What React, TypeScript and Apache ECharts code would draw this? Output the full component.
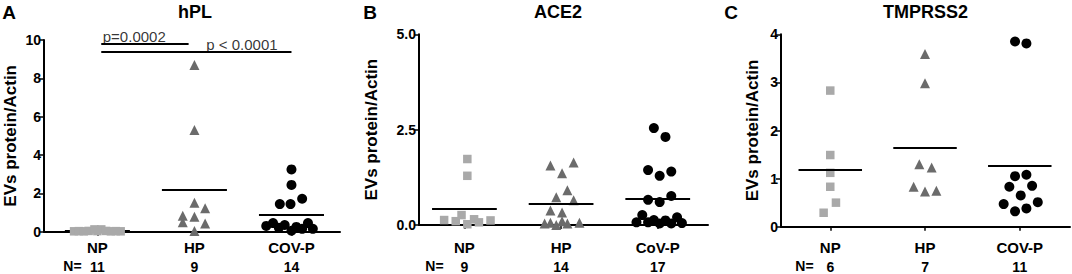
import React, { useEffect, useRef } from "react";
import * as echarts from "echarts";

const FONT = "'Liberation Sans', Arial, sans-serif";

// Panel A: hPL
const hplCategories = ["NP", "HP", "COV-P"];
const hplN = [11, 9, 14];
const hplNP = [0.02, 0.03, 0.02, 0.04, 0.12, 0.03, 0.12, 0.04, 0.02, 0.03, 0.02];
const hplNPJitter = [-0.24, -0.19, -0.14, -0.09, -0.03, 0.0, 0.04, 0.09, 0.14, 0.19, 0.24];
const hplHP = [8.7, 5.3, 1.51, 1.22, 0.83, 0.78, 0.49, 0.43, 0.03];
const hplHPJitter = [0, 0, 0, 0.11, -0.12, 0, -0.12, 0.11, 0];
const hplCOV = [3.25, 2.44, 1.72, 1.44, 1.44, 0.3, 0.45, 0.2, 0.35, 0.05, 0.25, 0.15, 0.45, 0.15];
const hplCOVJitter = [0, 0, 0.11, -0.12, -0.01, -0.26, -0.19, -0.13, -0.07, 0, 0.05, 0.11, 0.17, 0.22];
const hplMeans = [0.03, 2.17, 0.87];
const hplTicks = [0, 2, 4, 6, 8, 10];

// Panel B: ACE2
const aceCategories = ["NP", "HP", "CoV-P"];
const aceN = [9, 14, 17];
const aceNP = [1.73, 1.29, 0.13, 0.1, 0.26, 0.02, 0.15, 0.07, 0.12];
const aceNPJitter = [0.03, 0.03, -0.21, -0.09, -0.03, 0.03, 0.1, 0.15, 0.27];
const aceHP = [1.56, 1.64, 1.36, 0.91, 0.73, 0.65, 0.38, 0.33, 0.04, 0.06, 0.0, 0.1, 0.04, 0.06];
const aceHPJitter = [-0.11, 0.13, 0.01, 0.065, -0.05, 0.13, -0.11, 0.01, -0.17, -0.11, -0.05, 0.01, 0.065, 0.19];
const aceCOV = [2.54, 2.31, 1.44, 1.29, 1.4, 0.66, 0.6, 0.76, 0.26, 0.07, 0.07, 0.13, 0.04, 0.12, 0.2, 0.04, 0.05];
const aceCOVJitter = [-0.04, 0.08, -0.1, 0.02, 0.14, -0.1, 0.02, 0.14, -0.16, -0.22, -0.1, -0.04, 0.02, 0.08, 0.2, 0.14, 0.25];
const aceMeans = [0.42, 0.57, 0.7];
const aceTicks = [0, 2.5, 5];

// Panel C: TMPRSS2
const tmpCategories = ["NP", "HP", "COV-P"];
const tmpN = [6, 7, 11];
const tmpNP = [2.83, 1.49, 1.12, 0.83, 0.5, 0.29];
const tmpNPJitter = [0, 0, 0, 0, 0.06, -0.07];
const tmpHP = [3.59, 2.98, 1.3, 1.23, 0.83, 0.73, 0.75];
const tmpHPJitter = [0, 0, -0.06, 0.07, -0.12, 0, 0.12];
const tmpCOV = [3.85, 3.81, 1.05, 1.08, 0.83, 0.85, 0.65, 0.47, 0.51, 0.32, 0.38];
const tmpCOVJitter = [-0.05, 0.07, -0.05, 0.07, -0.11, 0.13, 0.01, -0.17, 0.19, -0.05, 0.07];
const tmpMeans = [1.19, 1.65, 1.26];
const tmpTicks = [0, 1, 2, 3, 4];

// significance annotations on panel A
const sigLines = [
  { from: 1.04, to: 1.94, y: 9.79, text: "p=0.0002", tx: 1.38, ty: 10.16 },
  { from: 1.04, to: 3.0, y: 9.37, text: "p < 0.0001", tx: 2.49, ty: 9.74 },
];

const panels = [
  {
    letter: "A", title: "hPL", cats: hplCategories, ns: hplN, means: hplMeans, ticks: hplTicks,
    groups: [[hplNP, hplNPJitter], [hplHP, hplHPJitter], [hplCOV, hplCOVJitter]],
    grid: { left: 44, top: 40, width: 296, height: 191.7 }, xMin: 0.45, xMax: 3.5,
    fmt: (v: number) => String(v), nameGap: 25, letterX: 9, titleX: 195, nX: 72.5,
  },
  {
    letter: "B", title: "ACE2", cats: aceCategories, ns: aceN, means: aceMeans, ticks: aceTicks,
    groups: [[aceNP, aceNPJitter], [aceHP, aceHPJitter], [aceCOV, aceCOVJitter]],
    grid: { left: 419, top: 34.3, width: 289, height: 190.7 }, xMin: 0.53, xMax: 3.52,
    fmt: (v: number) => v.toFixed(1), nameGap: 39, letterX: 370, titleX: 558, nX: 434.5,
  },
  {
    letter: "C", title: "TMPRSS2", cats: tmpCategories, ns: tmpN, means: tmpMeans, ticks: tmpTicks,
    groups: [[tmpNP, tmpNPJitter], [tmpHP, tmpHPJitter], [tmpCOV, tmpCOVJitter]],
    grid: { left: 781, top: 34.3, width: 289, height: 192.4 }, xMin: 0.48, xMax: 3.53,
    fmt: (v: number) => String(v), nameGap: 20.5, letterX: 731, titleX: 925.5, nX: 804.5,
  },
];

const symbols = ["rect", "triangle", "circle"];
const colors = ["#a9a9a9", "#6b6b6b", "#000000"];
const sizes = [8.5, 10, 10];

function buildOption() {
  const grids: any[] = [];
  const xAxes: any[] = [];
  const yAxes: any[] = [];
  const series: any[] = [];
  const graphics: any[] = [];

  panels.forEach((p, i) => {
    grids.push({ ...p.grid, outerBoundsMode: "none", containLabel: false });
    const axisY = p.grid.top + p.grid.height;
    const margin = 247 - axisY - 8;
    xAxes.push({
      type: "value",
      gridIndex: i,
      min: p.xMin,
      max: p.xMax,
      splitLine: { show: false },
      axisLine: { show: true, onZero: false, lineStyle: { color: "#000", width: 2 } },
      axisTick: { show: true, customValues: [1, 2, 3], length: 4, lineStyle: { color: "#000", width: 1.5 } },
      axisLabel: {
        show: true,
        customValues: [1, 2, 3],
        margin,
        formatter: (v: number) => `{c|${p.cats[Math.round(v) - 1]}}\n{n|${p.ns[Math.round(v) - 1]}}`,
        rich: {
          c: { fontFamily: FONT, fontWeight: "bold", fontSize: 15, color: "#000", lineHeight: 16 },
          n: { fontFamily: FONT, fontWeight: "bold", fontSize: 14, color: "#000", lineHeight: 23 },
        },
      },
    });
    const maxV = p.ticks[p.ticks.length - 1];
    yAxes.push({
      type: "value",
      gridIndex: i,
      min: 0,
      max: maxV,
      interval: p.ticks[1] - p.ticks[0],
      name: "EVs protein/Actin",
      nameLocation: "middle",
      nameRotate: 90,
      nameGap: p.nameGap,
      nameTextStyle: { fontFamily: FONT, fontWeight: "bold", fontSize: 17, color: "#000" },
      splitLine: { show: false },
      axisLine: { show: true, onZero: false, lineStyle: { color: "#000", width: 2 } },
      axisTick: { show: true, length: 5, lineStyle: { color: "#000", width: 1.5 } },
      axisLabel: {
        margin: 3,
        formatter: p.fmt,
        fontFamily: FONT,
        fontWeight: "bold",
        fontSize: 14,
        color: "#000",
      },
    });

    p.groups.forEach(([vals, jit], g) => {
      const c = g + 1;
      series.push({
        type: "scatter",
        xAxisIndex: i,
        yAxisIndex: i,
        symbol: symbols[g],
        symbolSize: sizes[g],
        itemStyle: { color: colors[g], opacity: 1 },
        z: 3,
        data: (vals as number[]).map((v, k) => [c + (jit as number[])[k], v]),
        markLine: {
          silent: true,
          symbol: ["none", "none"],
          z: i === 0 && g === 0 ? 1 : 5,
          label: { show: false },
          emphasis: { disabled: true },
          lineStyle: { color: "#000", width: 2, type: "solid" },
          data: [[{ coord: [c - 0.335, p.means[g]] }, { coord: [c + 0.335, p.means[g]] }]],
        },
      });
    });

    graphics.push({
      type: "text", x: p.letterX, y: 12,
      style: { text: p.letter, fontFamily: FONT, fontWeight: "bold", fontSize: 19, fill: "#000", align: "center", verticalAlign: "middle" },
    });
    graphics.push({
      type: "text", x: p.titleX, y: 12,
      style: { text: p.title, fontFamily: FONT, fontWeight: "bold", fontSize: 18, fill: "#000", align: "center", verticalAlign: "middle" },
    });
    graphics.push({
      type: "text", x: p.nX, y: 266,
      style: { text: "N=", fontFamily: FONT, fontWeight: "bold", fontSize: 14, fill: "#000", align: "center", verticalAlign: "middle" },
    });
  });

  sigLines.forEach((s) => {
    series.push({
      type: "line",
      xAxisIndex: 0,
      yAxisIndex: 0,
      clip: false,
      symbol: "none",
      silent: true,
      lineStyle: { color: "#000", width: 2 },
      data: [[s.from, s.y], [s.to, s.y]],
    });
    series.push({
      type: "scatter",
      xAxisIndex: 0,
      yAxisIndex: 0,
      clip: false,
      symbolSize: 0,
      silent: true,
      itemStyle: { color: "#000" },
      data: [[s.tx, s.ty]],
      label: {
        show: true,
        position: "inside",
        formatter: s.text,
        fontFamily: FONT,
        fontSize: 15,
        color: "#000",
        textBorderWidth: 0,
      },
    });
  });

  return {
    animation: false,
    backgroundColor: "#fff",
    grid: grids,
    xAxis: xAxes,
    yAxis: yAxes,
    series,
    graphic: graphics,
  };
}

export default function App() {
  const ref = useRef<HTMLDivElement>(null);
  useEffect(() => {
    document.body.style.margin = "0";
    const chart = echarts.init(ref.current!, null, { renderer: "svg" });
    chart.setOption(buildOption() as any);
    return () => chart.dispose();
  }, []);
  return <div ref={ref} style={{ width: 1072, height: 274 }} />;
}
